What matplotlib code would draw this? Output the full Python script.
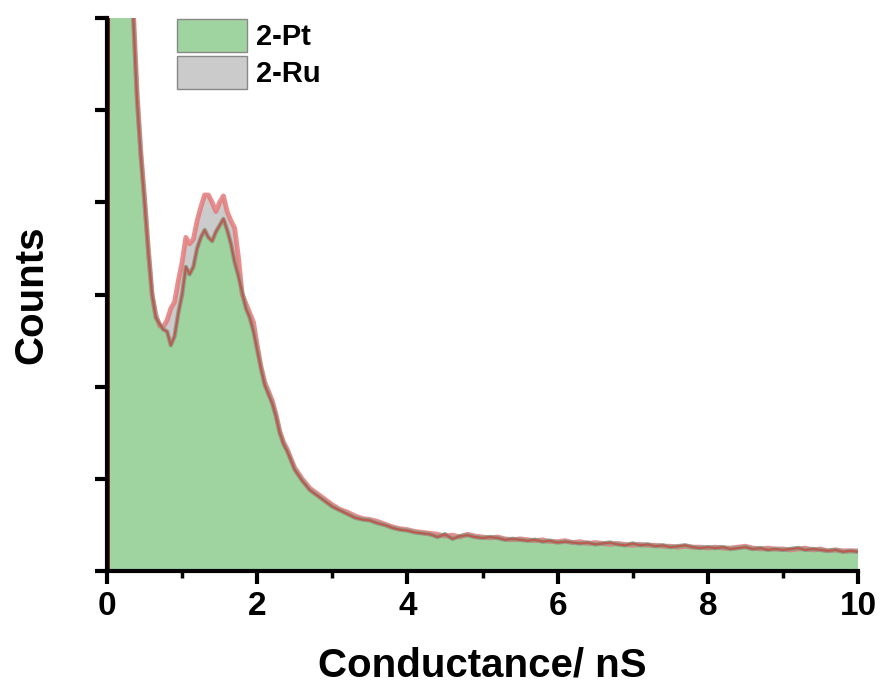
import numpy as np
import matplotlib.pyplot as plt
from matplotlib.patches import Patch

# x grid: fine steps near the peak, coarser in the tail
x_fine = [0.0, 0.05, 0.10, 0.15, 0.20, 0.25, 0.30, 0.35, 0.40, 0.45, 0.50,
          0.55, 0.60, 0.65, 0.70, 0.75, 0.80, 0.85, 0.90, 0.95, 1.00,
          1.05, 1.10, 1.15, 1.20, 1.25, 1.30, 1.35, 1.40, 1.45, 1.50,
          1.55, 1.60, 1.65, 1.70, 1.75, 1.80, 1.85, 1.90, 1.95, 2.00,
          2.05, 2.10, 2.15, 2.20, 2.25, 2.30, 2.35, 2.40, 2.45]
x_tail = [2.5, 2.6, 2.7, 2.8, 2.9, 3.0, 3.1, 3.2, 3.3, 3.4, 3.5, 3.6, 3.7,
          3.8, 3.9, 4.0, 4.1, 4.2, 4.3, 4.4, 4.5, 4.6, 4.7, 4.8, 4.9, 5.0,
          5.1, 5.2, 5.3, 5.4, 5.5, 5.6, 5.7, 5.8, 5.9, 6.0, 6.1, 6.2, 6.3,
          6.4, 6.5, 6.6, 6.7, 6.8, 6.9, 7.0, 7.1, 7.2, 7.3, 7.4, 7.5, 7.6,
          7.7, 7.8, 7.9, 8.0, 8.1, 8.2, 8.3, 8.4, 8.5, 8.6, 8.7, 8.8, 8.9,
          9.0, 9.1, 9.2, 9.3, 9.4, 9.5, 9.6, 9.7, 9.8, 9.9, 10.0]

pt_fine = [0.0, 30, 25, 18, 12, 9, 7, 6.0, 5.1, 4.5, 4.0,
           3.45, 3.0, 2.75, 2.68, 2.62, 2.6, 2.45, 2.55, 2.8, 3.0,
           3.3, 3.22, 3.3, 3.5, 3.62, 3.7, 3.62, 3.58, 3.68, 3.75,
           3.82, 3.7, 3.55, 3.35, 3.2, 3.02, 2.85, 2.75, 2.6, 2.4,
           2.2, 2.02, 1.92, 1.82, 1.68, 1.5, 1.38, 1.3, 1.2]
pt_tail = [1.1, 0.98, 0.88, 0.82, 0.76, 0.70, 0.66, 0.62, 0.58, 0.56, 0.55,
           0.52, 0.50, 0.47, 0.45, 0.44, 0.42, 0.41, 0.40, 0.37, 0.40, 0.35,
           0.38, 0.39, 0.37, 0.36, 0.37, 0.36, 0.34, 0.35, 0.34, 0.33, 0.34,
           0.32, 0.33, 0.31, 0.32, 0.31, 0.30, 0.31, 0.29, 0.30, 0.31, 0.29,
           0.28, 0.30, 0.28, 0.29, 0.27, 0.28, 0.26, 0.27, 0.28, 0.26, 0.25,
           0.26, 0.25, 0.26, 0.24, 0.25, 0.26, 0.24, 0.25, 0.23, 0.24, 0.23,
           0.24, 0.25, 0.23, 0.24, 0.23, 0.22, 0.23, 0.21, 0.22, 0.21]

ru_fine = [0.0, 30, 25, 18, 12, 9, 7, 6.1, 5.2, 4.55, 4.05,
           3.5, 3.0, 2.78, 2.66, 2.65, 2.72, 2.85, 2.92, 3.15, 3.35,
           3.62, 3.55, 3.6, 3.8, 3.95, 4.08, 4.08, 4.0, 3.9, 4.0,
           4.07, 3.9, 3.8, 3.72, 3.4, 3.0, 2.9, 2.8, 2.7, 2.45,
           2.22, 2.05, 1.95, 1.85, 1.7, 1.52, 1.4, 1.32, 1.22]
ru_tail = [1.12, 1.0, 0.9, 0.84, 0.78, 0.72, 0.67, 0.64, 0.60, 0.57, 0.56,
           0.54, 0.51, 0.48, 0.46, 0.45, 0.43, 0.42, 0.41, 0.40, 0.38, 0.39,
           0.37, 0.40, 0.38, 0.37, 0.36, 0.37, 0.35, 0.34, 0.35, 0.34, 0.33,
           0.34, 0.32, 0.32, 0.33, 0.31, 0.32, 0.30, 0.31, 0.30, 0.29, 0.30,
           0.29, 0.28, 0.29, 0.28, 0.28, 0.27, 0.27, 0.26, 0.27, 0.26, 0.26,
           0.25, 0.26, 0.25, 0.25, 0.26, 0.27, 0.25, 0.24, 0.25, 0.24, 0.24,
           0.23, 0.24, 0.25, 0.23, 0.24, 0.22, 0.23, 0.22, 0.22, 0.22]

x = np.array(x_fine + x_tail)
counts_pt = np.array(pt_fine + pt_tail)
counts_ru = np.array(ru_fine + ru_tail)

plt.rcParams['font.family'] = ['Liberation Sans', 'DejaVu Sans']
plt.rcParams['font.weight'] = 'bold'

fig = plt.figure(figsize=(8.8, 6.84), dpi=100)
ax = fig.add_axes([0.1216, 0.165, 0.8534, 0.8087])

# 2-Ru under, 2-Pt on top
ax.fill_between(x, counts_ru, color='#cbcbcb', lw=0)
ax.plot(x, counts_ru, color='#e57a7a', lw=3.5, alpha=0.85)
ax.fill_between(x, counts_pt, color='#9fd4a0', lw=0)
ax.plot(x, counts_pt, color='#8a9a8a', lw=3.2, alpha=0.85)
ax.plot(x, counts_pt, color='#c8463a', lw=1.6, alpha=0.75)
ax.plot([0.0, 0.0], [0, 6], color='#8b1a10', lw=3.5)

ax.set_xlim(0, 10)
ax.set_ylim(0, 6)
ax.set_xticks([0, 2, 4, 6, 8, 10])
ax.set_xticks([1, 3, 5, 7, 9], minor=True)
ax.set_yticks([0, 1, 2, 3, 4, 5, 6])
ax.set_yticklabels([])

for side in ['top', 'right']:
    ax.spines[side].set_visible(False)
for side in ['left', 'bottom']:
    ax.spines[side].set_linewidth(3)

ax.tick_params(axis='x', which='major', length=9, width=3, labelsize=24, pad=5)
ax.tick_params(axis='x', which='minor', length=5, width=2.5)
ax.tick_params(axis='y', which='major', length=9, width=3)

ax.set_xlabel('Conductance/ nS', fontsize=29, fontweight='bold', labelpad=18)
ax.set_ylabel('Counts', fontsize=29, fontweight='bold', labelpad=28)

handles = [Patch(facecolor='#9fd4a0', edgecolor='#888888', label='2-Pt'),
           Patch(facecolor='#cbcbcb', edgecolor='#888888', label='2-Ru')]
ax.legend(handles=handles, loc='upper left', bbox_to_anchor=(0.07, 1.03),
          frameon=False, handlelength=2.4, handleheight=1.35,
          handletextpad=0.3, labelspacing=0.15, borderpad=0.1,
          prop={'weight': 'bold', 'size': 21})

fig.savefig('out.png', dpi=100)
